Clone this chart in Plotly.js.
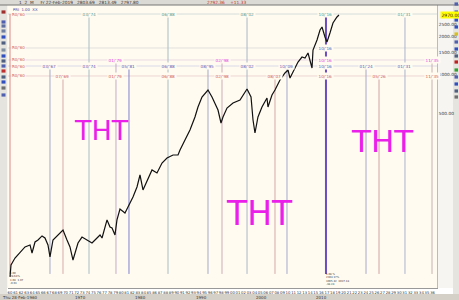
<!DOCTYPE html>
<html><head><meta charset="utf-8">
<script src="https://cdn.plot.ly/plotly-3.0.1.min.js"></script>
<style>html,body{margin:0;padding:0;background:#f4f3ef;overflow:hidden}#c{width:459px;height:300px}</style>
</head><body><div id="c"></div>
<script>
// ---- price series ----
const years=[1960.00,1960.18,1960.90,1961.80,1962.70,1963.60,1963.96,1964.50,1965.04,1965.76,1966.29,1966.83,1967.19,1967.73,1968.63,1969.53,1970.25,1970.79,1971.33,1971.69,1972.23,1972.95,1973.85,1974.75,1975.65,1976.19,1976.55,1977.45,1977.99,1978.35,1978.88,1979.24,1979.78,1980.68,1981.22,1982.12,1982.84,1983.38,1983.92,1984.64,1985.54,1986.44,1987.34,1988.24,1989.32,1990.22,1990.58,1991.47,1992.37,1993.27,1993.81,1994.53,1995.07,1995.61,1996.33,1996.87,1997.41,1997.95,1998.31,1999.03,2000.11,2001.37,2002.27,2002.63,2003.35,2003.71,2004.06,2004.60,2005.32,2006.22,2006.40,2007.12,2007.66,2008.56,2009.46,2010.00,2010.36,2010.90,2011.80,2012.52,2013.06,2013.60,2014.32,2014.50,2015.22,2015.76,2016.12,2016.65,2017.01,2017.55,2018.09,2018.81,2019.17];
const prices=[25.4,31.5,35.8,40.0,43.8,45.4,39.2,47.9,49.7,53.5,51.5,45.4,36.5,49.7,54.4,59.6,49.7,43.8,34.5,39.2,47.0,52.4,49.7,47.0,51.5,54.4,51.5,71.5,62.9,61.8,54.4,71.5,87.3,81.2,90.5,108.6,130.2,162.0,123.3,145.2,177.4,168.0,201.4,220.6,233.0,233.0,255.1,306.0,367.0,465.0,557.7,668.8,719.2,759.7,668.8,599.7,528.0,416.9,465.0,547.6,599.7,633.3,732.4,773.5,668.8,440.3,347.6,465.0,557.7,656.8,557.7,693.5,759.7,911.1,1034.8,1092.8,944.7,1053.6,1263.8,1384.1,1359.1,1488.5,1133.3,1571.6,1885.7,2261.5,2388.6,1991.0,1817.8,2141.8,2568.6,2864.4,2970.0];
const lastPrice=2970;

// ---- cycle (time) lines ----
const cycleYears=[1960.00,1967.19,1969.53,1974.21,1979.06,1981.40,1988.42,1995.61,1998.13,2002.63,2007.66,2009.82,2016.83,2024.03,2026.37,2031.04,2035.90];
const cycleColors=['#d98a8a','#a4a8cc','#d6aaaa','#a9bcc6','#c6a8c8','#7f80d0','#a9bcc6','#a4a8cc','#cfaab8','#a9b6c8','#d4a8a8','#a4a8cc','#6a4cc4','#a8a8cc','#d4a0a0','#a9b4cc','#c8b0b0'];
const cycleWidths=[1,1,1,1,1,1,1,1,1,1,1,1,2,1,1,1,1];
const cycleRows=[[0],[3],[4],[0,3],[2,4],[3],[0,3,4],[3],[2,4],[0,3],[4],[3],[0,1,2,3,4],[3],[4],[0,3],[2,4]];
// label rows
const rowLevels=[3025,1631,1311,1175,980];
const rowColors=['#4f9a94','#5a5ab8','#e040e0','#5a5ab8','#d05a5a'];
const rowLineColors=['#c9d6d4','#d8d8d8','#e6d0e2','#cfd2e4','#e8cccc'];
const lineBottom=26.8;

// ---- axis ticks ----
const yTicks=[500,1000,1500,2000,2500];
const yTickText=['500.00','1000.00','1500.00','2000.00','2500.00'];
const xTickVals=[];const xTickText=[];
for(let y=1960;y<=2036;y++){xTickVals.push(y);xTickText.push(String(y%100).padStart(2,'0'));}

const X0=1959.64,X1=2036.8;
const traces=[];
rowLevels.forEach((lv,i)=>traces.push({x:[X0,X1],y:[lv,lv],mode:'lines',line:{color:rowLineColors[i],width:0.8},hoverinfo:'skip'}));
cycleYears.forEach((yr,i)=>{
  const top=rowLevels[Math.min(...cycleRows[i])];
  traces.push({x:[yr,yr],y:[top,lineBottom],mode:'lines',line:{color:cycleColors[i],width:cycleWidths[i]},hoverinfo:'skip'});
});
traces.push({x:years,y:prices,mode:'lines',line:{color:'#111',width:1.2},hoverinfo:'skip'});

const ann=[];
const L=v=>Math.log10(v);
cycleYears.forEach((yr,i)=>{
  const mm=String(Math.floor((yr%1)*12)+1).padStart(2,'0');
  const yy=String(Math.floor(yr)%100).padStart(2,'0');
  cycleRows[i].forEach(r=>{
    if(i===0)return;
    ann.push({x:yr,y:L(rowLevels[r]),text:mm+"/'"+yy,showarrow:false,font:{size:4.2,color:rowColors[r],family:'DejaVu Sans'},bgcolor:'#fffbf0',borderpad:0.5});
  });
});
// left red row labels
rowLevels.forEach((lv,i)=>ann.push({xref:'paper',x:0.008,xanchor:'left',y:L(lv),text:"R0/'60",showarrow:false,font:{size:4,color:'#d05a5a',family:'DejaVu Sans'},bgcolor:'#fffbf0',borderpad:0}));
// current price
ann.push({xref:'paper',x:1.006,xanchor:'left',y:L(lastPrice),text:lastPrice.toFixed(2),showarrow:false,font:{size:4.5,color:'#222',family:'DejaVu Sans'},bgcolor:'#ffff00',borderpad:0.5});
// THT scribbles
const tht=[[0.2168,0.5583,27],[0.5874,0.2615,33],[0.8741,0.5194,31]];
tht.forEach(t=>ann.push({xref:'paper',yref:'paper',x:t[0],y:t[1],xanchor:'center',yanchor:'middle',text:'THT',showarrow:false,font:{size:t[2],color:'#ea1fea',family:'DejaVu Sans'}}));
// header text
ann.push({xref:'paper',yref:'paper',x:0.02,y:1.009,xanchor:'left',yanchor:'middle',text:'1  2  M     Fr 22-Feb-2019   2803.69   2813.49   2797.80',showarrow:false,font:{size:4.3,color:'#333',family:'DejaVu Sans'}});
ann.push({xref:'paper',yref:'paper',x:0.46,y:1.009,xanchor:'left',yanchor:'middle',text:'2792.36    +11.33',showarrow:false,font:{size:4.3,color:'#c03030',family:'DejaVu Sans'}});
ann.push({xref:'paper',yref:'paper',x:0.008,y:0.985,xanchor:'left',yanchor:'middle',text:'PRI  1.00  XX',showarrow:false,font:{size:3.8,color:'#4040a0',family:'DejaVu Sans'}});
// bottom info texts
ann.push({xref:'paper',yref:'paper',x:0.0,y:0.002,xanchor:'left',yanchor:'bottom',align:'left',text:'1.00<br>28.64%<br>1.04  1.07<br>-0.03',showarrow:false,font:{size:2.6,color:'#333',family:'DejaVu Sans'}});
ann.push({xref:'x',yref:'paper',x:2016.4,y:0.0,xanchor:'left',yanchor:'bottom',align:'left',text:'1.08 %<br>2304.17%<br>3065.42  3027.18<br>-38.24',showarrow:false,font:{size:2.6,color:'#333',family:'DejaVu Sans'}});
// bottom status bar text
ann.push({xref:'paper',yref:'paper',x:-0.018,y:-0.032,xanchor:'left',yanchor:'middle',text:'Thu 28-Feb-1960',showarrow:false,font:{size:4,color:'#333',family:'DejaVu Sans'}});
['1970','1980','1990','2000','2010'].forEach((t,i)=>ann.push({xref:'paper',yref:'paper',x:0.17+i*0.14,y:-0.032,xanchor:'center',yanchor:'middle',text:t,showarrow:false,font:{size:4,color:'#333',family:'DejaVu Sans'}}));

// chrome shapes (toolbars / bars)
const shapes=[
 {type:'rect',layer:'below',xref:'paper',yref:'paper',x0:-0.05,x1:1.1,y0:1.0,y1:1.05,fillcolor:'#dcdad4',line:{width:0}},
 {type:'line',xref:'paper',yref:'paper',x0:-0.05,x1:1.1,y0:1.0,y1:1.0,line:{color:'#777',width:1}},
 {type:'rect',layer:'below',xref:'paper',yref:'paper',x0:-0.05,x1:-0.0023,y0:-0.05,y1:1.0,fillcolor:'#e6e4de',line:{width:0}},
 {type:'rect',layer:'below',xref:'paper',yref:'paper',x0:1.0373,x1:1.1,y0:-0.05,y1:1.0,fillcolor:'#e6e4de',line:{width:0}},
 {type:'rect',layer:'below',xref:'paper',yref:'paper',x0:-0.0023,x1:1.0373,y0:-0.0212,y1:0,fillcolor:'#ffffff',line:{width:0}},
 {type:'rect',layer:'below',xref:'paper',yref:'paper',x0:-0.05,x1:1.1,y0:-0.05,y1:-0.0212,fillcolor:'#d4d0c8',line:{width:0}}
];
const iconYs=[12,22,26,31,37,43,50,56,61,66,71,77,82,88,95];
const iconColors=['#a03030','#5060b0','#6070a0','#7080a0','#3050c0','#506080','#8090a0','#3050c0','#506080','#5060b0','#c03030','#506080','#3050c0','#707070','#5060b0'];
iconYs.forEach((py,i)=>shapes.push({type:'rect',xref:'paper',yref:'paper',x0:(1.5-8)/429,x1:(5.5-8)/429,y0:(288-py-1.6)/283,y1:(288-py+1.6)/283,fillcolor:iconColors[i],line:{width:0}}));
const rIconYs=[4,12,20,27,34,42,49,56,62,70,77,84,91,97];
const rIconColors=['#5060b0','#5060b0','#3050c0','#3050c0','#d8c020','#5060b0','#3050c0','#506080','#c02020','#30a030','#5060b0','#3050c0','#506080','#707070'];
rIconYs.forEach((py,i)=>shapes.push({type:'rect',xref:'paper',yref:'paper',x0:(454.5-8)/429,x1:(458-8)/429,y0:(288-py-1.6)/283,y1:(288-py+1.6)/283,fillcolor:rIconColors[i],line:{width:0}}));

const layout={
 width:459,height:300,margin:{l:8,r:22,t:5,b:12,autoexpand:false},
 paper_bgcolor:'#f6f5f2',plot_bgcolor:'#fffbf0',showlegend:false,hovermode:false,
 font:{family:'DejaVu Sans',size:5,color:'#333'},
 xaxis:{range:[X0,X1],automargin:false,showgrid:false,zeroline:false,tickmode:'array',tickvals:xTickVals,ticktext:xTickText,tickangle:0,tickfont:{size:3.8,color:'#333'},ticks:'',showline:true,linecolor:'#999',linewidth:1,mirror:false},
 yaxis:{type:'log',range:[1.317,3.5518],automargin:false,side:'right',showgrid:false,zeroline:false,tickmode:'array',tickvals:yTicks,ticktext:yTickText,tickfont:{size:4.3,color:'#333'},ticks:'',ticklen:0,showline:true,linecolor:'#bbb',linewidth:1},
 annotations:ann,shapes:shapes
};
Plotly.newPlot('c',traces,layout,{staticPlot:true,displayModeBar:false});
</script></body></html>
